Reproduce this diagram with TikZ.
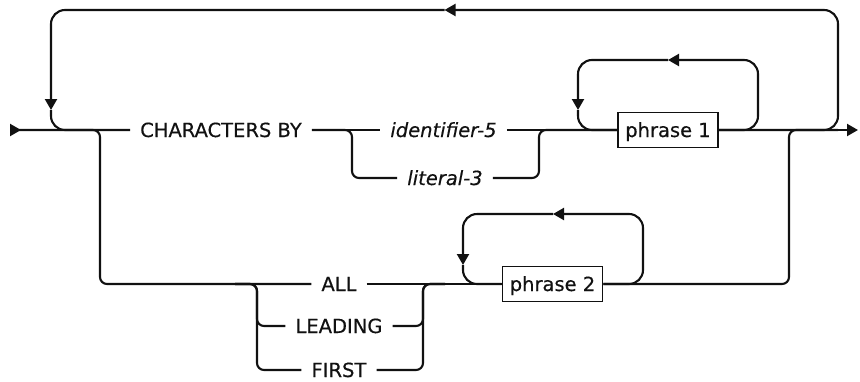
\documentclass[tikz,border=0pt]{standalone}
\usepackage{fontspec}
\setmainfont{DejaVu Sans}[FakeBold=0.4]
\usepackage{xcolor}
\definecolor{railInk}{HTML}{111111}
\usepackage{tikz}
\usetikzlibrary{
  arrows.meta,
  positioning,
  calc
}
\tikzset{
  rail/.style={draw=railInk,line width=2.1pt,rounded corners=7pt},
  loopline/.style={rail,rounded corners=14pt},
  railarrow/.style={-{Triangle[length=11pt,width=12pt]}},
  railstart/.style={{Triangle[reversed,length=11pt,width=12pt]}-},
  kw/.style={
    inner xsep=10pt,inner ysep=0pt,
    text height=14pt,text depth=0pt,
    text=railInk,font=\fontsize{19.5}{23}\selectfont
  },
  var/.style={kw,font=\fontsize{19.5}{23}\selectfont\itshape},
  frag/.style={
    rectangle,draw=railInk,line width=1.8pt,
    minimum width=100pt,minimum height=35pt,inner sep=0pt,
    text height=14pt,text depth=0pt,
    text=railInk,font=\fontsize{19.5}{23}\selectfont
  },
}

\begin{document}
\begin{tikzpicture}[x=1pt,y=-1pt]
\useasboundingbox (0,0) rectangle (860,381);

%% ── Items ────────────────────────────────────────────────
\node[kw]   (chars) at (221,130)   {CHARACTERS BY};
\node[var]  (ident) at (443.5,130) {identifier-5};
\node[var]  (lit)   at (445,178)   {literal-3};
\node[frag] (ph1)   at (668,130)   {phrase 1};
\node[kw]   (all)   at (339,284)   {ALL};
\node[kw]   (lead)  at (339,326)   {LEADING};
\node[kw]   (first) at (339,370)   {FIRST};
\node[frag] (ph2)   at (552.5,284) {phrase 2};

%% ── Junctions ────────────────────────────────────────────
\coordinate (start)    at (10,130);
\coordinate (stop)     at (858,130);
\coordinate (outTop)   at (444.5,10);
\coordinate (outR)     at (838,130);
\coordinate (outTip)   at (51,110);
\coordinate (lowBL)    at (100,284);
\coordinate (lowTR)    at (789,130);
\coordinate (litL)     at (352,178);
\coordinate (litR)     at (539,178);
\coordinate (grpL)     at (257,284);
\coordinate (grpL0)    at (235,284);
\coordinate (grpR)     at (423,284);
\coordinate (grpR0)    at (445,284);
\coordinate (loop1R)   at (758,130);
\coordinate (loop1Top) at (668,60);
\coordinate (loop1Tip) at (578,110);
\coordinate (loop2R)   at (643,284);
\coordinate (loop2Top) at (553,214);
\coordinate (loop2Tip) at (463,265);

%% ── Main line ────────────────────────────────────────────
\draw[rail,railstart] (start) -- (chars.west);
\draw[rail] (chars.east) -- (ident.west);
\draw[rail] (ident.east) -- (ph1.west);
\draw[rail,railarrow] (ph1.east) -- (stop);

%% ── identifier-5 / literal-3 ─────────────────────────────
\draw[rail] (chars.east) -| (litL) -- (lit.west);
\draw[rail] (lit.east) -- (litR) |- (ph1.west);

%% ── Repeat phrase 1 ──────────────────────────────────────
\draw[loopline,railarrow] (ph1.east) -| (loop1R |- loop1Top) -- (loop1Top);
\draw[loopline,railarrow] (loop1Top) -| (loop1Tip);
\draw[loopline] (loop1Tip) |- (ph1.west);

%% ── Outer repeat ─────────────────────────────────────────
\draw[loopline,railarrow] (ph1.east) -| (outR |- outTop) -- (outTop);
\draw[loopline,railarrow] (outTop) -| (outTip);
\draw[loopline] (outTip) |- (chars.west);

%% ── ALL / LEADING / FIRST ────────────────────────────────
\draw[rail] (start) -| (lowBL) -- (all.west);
\draw[rail] (grpL0) -| (grpL |- lead) -- (lead.west);
\draw[rail] (grpL0) -| (grpL |- first) -- (first.west);
\draw[rail] (lead.east) -| (grpR) -- (grpR0);
\draw[rail] (first.east) -| (grpR) -- (grpR0);
\draw[rail] (all.east) -- (ph2.west);

%% ── Repeat phrase 2 ──────────────────────────────────────
\draw[loopline,railarrow] (ph2.east) -| (loop2R |- loop2Top) -- (loop2Top);
\draw[loopline,railarrow] (loop2Top) -| (loop2Tip);
\draw[loopline] (loop2Tip) |- (ph2.west);

%% ── Back to main line ────────────────────────────────────
\draw[rail] (ph2.east) -| (lowTR) -- (outR);

\end{tikzpicture}
\end{document}
